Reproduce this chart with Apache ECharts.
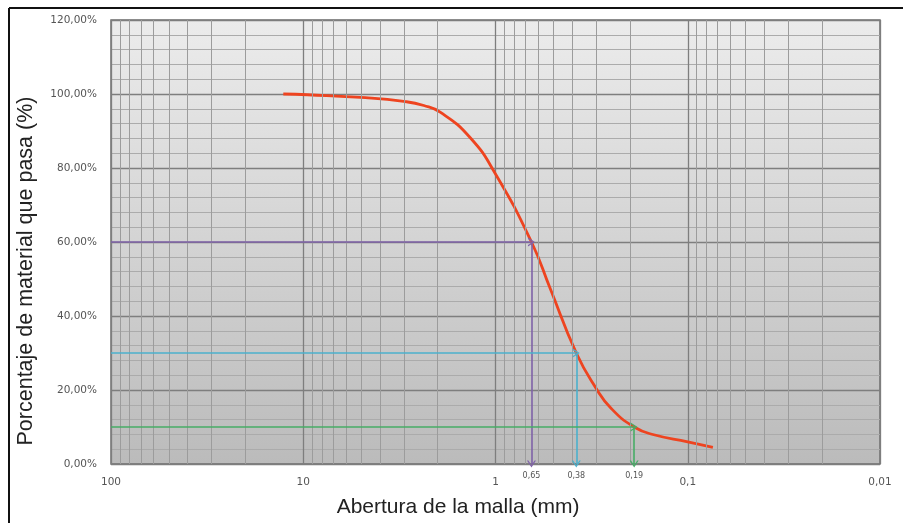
<!DOCTYPE html>
<html>
<head>
<meta charset="utf-8">
<script src="https://cdn.jsdelivr.net/npm/echarts@6/dist/echarts.min.js"></script>
<style>html,body{margin:0;padding:0;background:#fff;}#c{width:903px;height:523px;}</style>
</head>
<body>
<div id="c"></div>
<script>
// Curve data (aperture mm, % passing)
const sizes = [12.7, 9.5, 4.75, 3.0, 2.36, 1.94, 1.36, 1.0, 0.65, 0.52, 0.38, 0.3, 0.25, 0.19, 0.15, 0.1, 0.074];
const passing = [100, 99.8, 99.0, 98.0, 96.9, 95.1, 88.3, 78.4, 60, 47.5, 30, 20.5, 15, 10, 7.9, 6.0, 4.5];
// Reference lines (D60, D30, D10)
const refPct = [60, 30, 10];
const refSize = [0.65, 0.38, 0.19];
const refLabel = ['0,65', '0,38', '0,19'];
const refColor = ['#7f62a8', '#4bb0cc', '#47ad66'];
// Axis ticks
const xTicks = [100, 10, 1, 0.1, 0.01];
const yTicks = [0, 20, 40, 60, 80, 100, 120];

const decades = [10, 1, 0.1, 0.01];
const mults = [2, 3, 4, 5, 6, 7, 8, 9];
const minorX = [];
decades.forEach(d => mults.forEach(m => minorX.push({xAxis: +(d * m).toPrecision(3)})));

const chevron = 'path://M0,10L5,0L10,10L8.4,10L5,3.2L1.6,10Z';

const refMarks = [];
refPct.forEach((p, i) => {
  refMarks.push([
    {coord: [xTicks[0], p], lineStyle: {color: refColor[i]}, itemStyle: {color: refColor[i]}, symbol: 'none'},
    {coord: [refSize[i], p], symbol: chevron}
  ]);
  refMarks.push([
    {coord: [refSize[i], p], lineStyle: {color: refColor[i]}, itemStyle: {color: refColor[i]}, symbol: 'none',
     label: {show: true, position: 'end', formatter: refLabel[i], fontSize: 8, color: '#555',
             fontFamily: 'DejaVu Sans', distance: 8}},
    {coord: [refSize[i], 0], symbol: chevron}
  ]);
});

const chart = echarts.init(document.getElementById('c'), null, {renderer: 'canvas'});
chart.setOption({
  animation: false,
  backgroundColor: '#fff',
  grid: {
    left: 111, right: 23, top: 20, bottom: 59,
    show: true,
    borderColor: '#6f6f6f', borderWidth: 1.5,
    backgroundColor: {type: 'linear', x: 0, y: 0, x2: 0, y2: 1,
      colorStops: [{offset: 0, color: '#ececec'}, {offset: 1, color: '#bbbbbb'}]}
  },
  xAxis: {
    type: 'log', logBase: 10, inverse: true, min: 0.01, max: 100,
    name: 'Abertura de la malla (mm)', nameLocation: 'middle', nameGap: 33,
    nameTextStyle: {fontSize: 21, color: '#222', fontFamily: 'Liberation Sans', padding: [0, 75, 0, 0]},
    axisLine: {show: false}, axisTick: {show: false},
    axisLabel: {fontSize: 10.5, color: '#555', margin: 13, fontFamily: 'DejaVu Sans',
      formatter: v => String(v).replace('.', ',')},
    splitLine: {show: true, lineStyle: {color: '#7e7e7e', width: 1.3}}
  },
  yAxis: {
    type: 'value', min: 0, max: 120, interval: 20,
    name: 'Porcentaje de material que pasa (%)', nameLocation: 'middle', nameGap: 74,
    nameTextStyle: {fontSize: 21.5, color: '#222', fontFamily: 'Liberation Sans', padding: [0, 58, 0, 0]},
    axisLine: {show: false}, axisTick: {show: false},
    axisLabel: {fontSize: 10.5, color: '#555', margin: 14, fontFamily: 'DejaVu Sans',
      formatter: v => v.toFixed(2).replace('.', ',') + '%'},
    splitLine: {show: true, lineStyle: {color: '#7e7e7e', width: 1.3}},
    minorTick: {show: false, splitNumber: 5},
    minorSplitLine: {show: true, lineStyle: {color: '#ababab', width: 1}}
  },
  graphic: [
    {type: 'line', shape: {x1: 9, y1: 8, x2: 903, y2: 8}, style: {stroke: '#111', lineWidth: 2}, z: 100},
    {type: 'line', shape: {x1: 9, y1: 8, x2: 9, y2: 523}, style: {stroke: '#111', lineWidth: 2}, z: 100}
  ],
  series: [
    {
      type: 'line', data: [], silent: true,
      markLine: {silent: true, symbol: 'none', animation: false, label: {show: false},
        lineStyle: {color: '#9c9c9c', width: 1, type: 'solid'}, data: minorX}
    },
    {
      type: 'line', data: [], silent: true, z: 3,
      markLine: {silent: true, animation: false, symbolSize: [9, 7], label: {show: false},
        lineStyle: {width: 1.6, type: 'solid'}, data: refMarks}
    },
    {
      type: 'line', smooth: 0.5, showSymbol: false, z: 4,
      data: sizes.map((s, i) => [s, passing[i]]),
      lineStyle: {color: '#ee4420', width: 2.8}
    }
  ]
});
</script>
</body>
</html>
